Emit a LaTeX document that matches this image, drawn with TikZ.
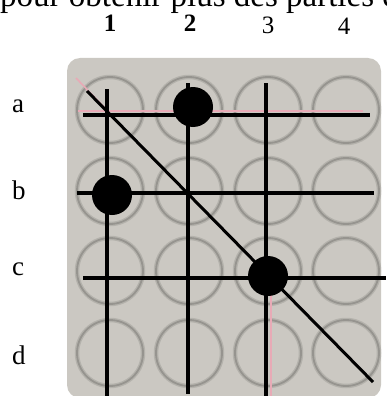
\documentclass[tikz,border=0pt]{standalone}
\usepackage{fontspec}
\setmainfont{Liberation Serif}
\definecolor{boardgray}{RGB}{203,200,194}
\definecolor{holegray}{RGB}{150,148,143}
\definecolor{holesoft}{RGB}{180,178,172}
\definecolor{pinkish}{RGB}{232,170,182}
\begin{document}
\begin{tikzpicture}[x=1pt,y=-1pt,
  holesoftst/.style={draw=holesoft, line width=4.5pt, circle, minimum width=66pt, inner sep=0pt},
  hole/.style={draw=holegray, line width=1.8pt, circle, minimum width=66pt, inner sep=0pt},
  pion/.style={fill=black, circle, minimum size=40pt, inner sep=0pt},
  trait/.style={line width=4pt, black},
  diag/.style={line width=3pt, black},
  rose/.style={line width=1.6pt, pinkish},
  collab/.style={font=\fontsize{25}{28}\selectfont, inner sep=0pt, anchor=base},
  rowlab/.style={font=\fontsize{27}{30}\selectfont, inner sep=0pt, anchor=base west}]
\useasboundingbox (0,0) rectangle (386,396);
% cropped caption line at top
\begin{scope}
\clip (0,0) rectangle (386,396);
\node[anchor=base west, font=\fontsize{33}{36}\selectfont, inner sep=0pt] (titre) at (0,7) {pour obtenir plus des parties de};
\end{scope}
% column and row labels
\node[collab, font=\fontsize{25}{28}\selectfont\bfseries] (c1) at (110,32) {1};
\node[collab, font=\fontsize{25}{28}\selectfont\bfseries] (c2) at (190,32) {2};
\node[collab] (c3) at (268,34) {3};
\node[collab] (c4) at (344,35) {4};
\node[rowlab] (ra) at (12,112) {a};
\node[rowlab] (rb) at (12,199) {b};
\node[rowlab] (rc) at (12,275) {c};
\node[rowlab] (rd) at (12,364) {d};
% board
\fill[boardgray, rounded corners=13pt] (67,58) rectangle (381,398);
% holes
\foreach \x [count=\i] in {110,189,268,346}{
  \foreach \y [count=\j] in {110,191,271,353}{
    \node[holesoftst] (s\i\j) at (\x,\y) {};
    \node[hole] (h\i\j) at (\x,\y) {};
  }
}
% line end points
\coordinate (aL) at (83,115);  \coordinate (aR) at (370,115);
\coordinate (bL) at (77,193);  \coordinate (bR) at (374,193);
\coordinate (cL) at (83,278);  \coordinate (cR) at (386,278);
\coordinate (v1T) at (107,89); \coordinate (v1B) at (107,396);
\coordinate (v2T) at (188,83); \coordinate (v2B) at (188,394);
\coordinate (v3T) at (266,83); \coordinate (v3B) at (266,396);
\coordinate (dT) at (87,91);   \coordinate (dB) at (373,382);
% pink fringes
\coordinate (pa1) at (78,111); \coordinate (pa2) at (363,111);
\coordinate (pd1) at (76,78);  \coordinate (pd2) at (104,107);
\coordinate (pc1) at (271,286); \coordinate (pc2) at (271,396);
\draw[rose] (pa1) -- (pa2);
\draw[rose] (pd1) -- (pd2);
\draw[rose] (pc1) -- (pc2);
% lines
\draw[trait] (aL) -- (aR);
\draw[trait] (bL) -- (bR);
\draw[trait] (cL) -- (cR);
\draw[trait] (v1T) -- (v1B);
\draw[trait] (v2T) -- (v2B);
\draw[trait] (v3T) -- (v3B);
\draw[diag] (dT) -- (dB);
% pieces
\node[pion] (pA2) at (193,107) {};
\node[pion] (pB1) at (112,195) {};
\node[pion] (pC3) at (268,276) {};
\end{tikzpicture}
\end{document}
